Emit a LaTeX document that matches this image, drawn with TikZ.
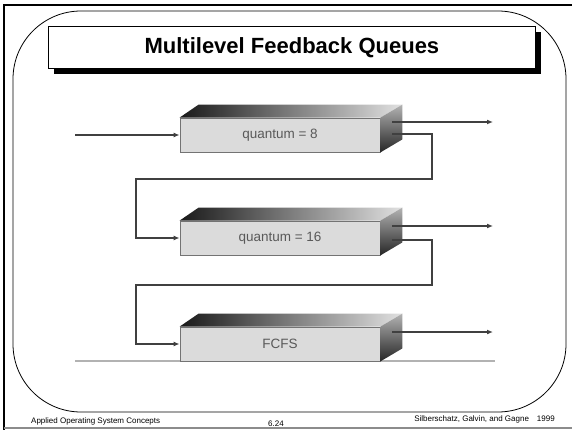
\documentclass[tikz,border=0pt]{standalone}
\usepackage{fontspec}
\setmainfont{Liberation Sans}
\usetikzlibrary{positioning,calc,arrows.meta}

\begin{document}
\begin{tikzpicture}[x=1pt,y=-1pt]
	\tikzstyle{queue}=[draw=black!55, fill=black!14, line width=0.8pt, minimum width=200pt, minimum height=34pt, inner sep=0pt, text=black!65, font=\fontsize{13.5}{13.5}\selectfont];
	\tikzstyle{link}=[draw=black!75, line width=1.4pt];
	\tikzstyle{flow}=[link, -{Latex[length=6pt,width=5pt]}];
	\tikzstyle{foot}=[font=\fontsize{8}{8}\selectfont, inner sep=0pt];

   \useasboundingbox (0,0) rectangle (572,430);
   % slide frame
   \draw[line width=2.5pt] (4,430) -- (4,5) -- (572,5);
   \draw[black!45, line width=1.2pt] (4,428) -- (572,428);
   \draw[line width=0.8pt, rounded corners=68pt] (13,11) rectangle (566,412);

   % title
   \fill (54,32) rectangle (541,74);
   \node[draw, line width=0.8pt, fill=white, minimum width=487pt, minimum height=42pt, anchor=north west, font=\bfseries\fontsize{22}{22}\selectfont] (title) at (48,26) {Multilevel Feedback Queues};

   % floor
   \draw[black!30, line width=1.5pt] (75,361) -- (495,361);

   % queues
   \node[queue] (q1) at (280,135) {quantum = 8};
   \node[queue] (q2) at (280,238) {quantum = 16};
   \node[queue] (q3) at (280,344) {FCFS};
   \foreach \q in {q1,q2,q3} {
      \shade[left color=black!90, right color=black!12] (\q.north west) -- ($(\q.north west)+(19,-13)$) -- ($(\q.north east)+(22,-13)$) -- (\q.north east) -- cycle;
      \shade[top color=black!30, bottom color=black!85] (\q.north east) -- ($(\q.north east)+(22,-13)$) -- ($(\q.south east)+(22,-13)$) -- (\q.south east) -- cycle;
   }

   \coordinate (in) at (75,135);
   \coordinate (x1) at (392,122);
   \coordinate (x2) at (392,226);
   \coordinate (x3) at (392,332);
   \coordinate (o1) at (493,122);
   \coordinate (o2) at (493,226);
   \coordinate (o3) at (493,332);
   \coordinate (f1) at (392,134);
   \coordinate (f2) at (392,240);
   \coordinate (r1) at (432,179);
   \coordinate (l1) at (136,179);
   \coordinate (r2) at (432,285);
   \coordinate (l2) at (136,285);

   \draw[flow] (in) -- (q1.west);
   \draw[flow] (x1) -- (o1);
   \draw[flow] (x2) -- (o2);
   \draw[flow] (x3) -- (o3);
   \draw[flow] (f1) -| (r1) -- (l1) |- (q2.west);
   \draw[flow] (f2) -| (r2) -- (l2) |- (q3.west);

   % footer
   \node[foot, anchor=west] (course) at (31,421) {Applied Operating System Concepts};
   \node[foot] (page) at (276,424) {6.24};
   \node[foot, anchor=east] (authors) at (555,419) {Silberschatz, Galvin, and Gagne\hspace{8pt}1999};

\end{tikzpicture}
\end{document}
